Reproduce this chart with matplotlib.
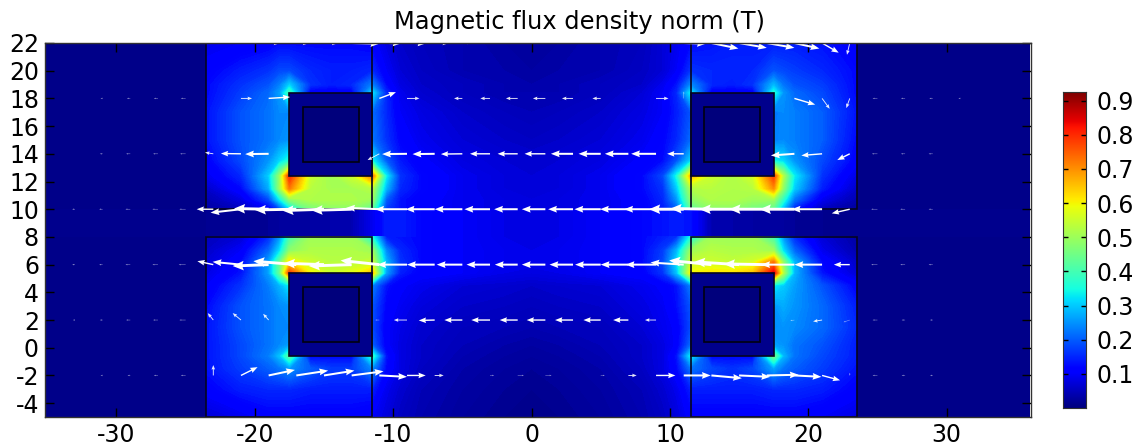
import numpy as np
import matplotlib
matplotlib.use("Agg")
import matplotlib.pyplot as plt
from matplotlib.patches import Rectangle

plt.rcParams["axes.unicode_minus"] = False

title = "Magnetic flux density norm (T)"
x_ticks = [-30, -20, -10, 0, 10, 20, 30]
y_ticks = list(range(-4, 23, 2))
cbar_ticks = [0.1, 0.2, 0.3, 0.4, 0.5, 0.6, 0.7, 0.8, 0.9]
vmin, vmax = 0.0, 0.925

# field sampled by eye: node positions
field_x = [-36, -23.51, -23.5, -21, -19, -18.2, -17.5, -16, -14.5, -13, -11.5, -10.5, -9.5, -8, -5, -2, 0, 2, 5, 8,
           9.5, 10.5, 11.5, 13, 14.5, 16, 17.5, 18.2, 19, 21, 23.49, 23.5, 36]
field_y = [22, 20, 19, 18.4, 17, 15, 13.5, 12.4, 11.5, 10.7, 10, 9.99, 9, 8.01, 8, 7, 6.2, 5.4, 4.5, 3, 1.5, 0.2,
           -0.6, -1.5, -3, -5]

f_22 = [.01,.01,.09,.10,.11,.12,.12,.12,.12,.12,.11,.08,.06,.05,.04,.03,.03,.03,.04,.05,.07,.09,.12,.13,.14,.14,.14,.14,.14,.13,.11,.01,.01]
f_20 = [.01,.01,.11,.14,.16,.18,.18,.15,.14,.14,.15,.10,.07,.055,.04,.035,.03,.035,.04,.055,.07,.10,.16,.15,.15,.15,.19,.18,.17,.15,.12,.01,.01]
f_19 = [.01,.01,.12,.16,.19,.23,.30,.16,.14,.15,.23,.12,.08,.06,.05,.04,.035,.04,.05,.06,.09,.13,.24,.15,.14,.16,.28,.22,.19,.17,.12,.01,.01]
f_184 = [.01,.01,.12,.17,.21,.26,.40,.10,.10,.10,.32,.15,.09,.065,.05,.04,.04,.04,.05,.07,.10,.15,.33,.10,.10,.10,.36,.25,.21,.18,.12,.01,.01]
f_17 = [.01,.01,.13,.19,.22,.24,.24,.05,.05,.05,.21,.15,.10,.08,.06,.05,.045,.05,.06,.08,.10,.14,.19,.05,.05,.05,.22,.24,.23,.20,.13,.01,.01]
f_15 = [.01,.01,.13,.19,.22,.24,.25,.05,.05,.05,.22,.16,.115,.09,.07,.06,.055,.06,.07,.09,.115,.15,.21,.05,.05,.05,.23,.24,.23,.20,.12,.01,.01]
f_135 = [.01,.01,.11,.18,.25,.31,.36,.05,.05,.05,.34,.20,.135,.105,.08,.07,.065,.07,.08,.105,.125,.19,.31,.05,.05,.05,.34,.31,.25,.18,.11,.01,.01]
f_124 = [.01,.01,.09,.15,.30,.50,.80,.55,.50,.55,.72,.33,.16,.12,.09,.075,.07,.075,.09,.12,.18,.35,.66,.55,.52,.56,.78,.52,.33,.16,.08,.01,.01]
f_115 = [.01,.01,.06,.12,.27,.50,.72,.53,.51,.51,.53,.28,.15,.12,.09,.075,.07,.075,.09,.12,.16,.30,.52,.53,.52,.53,.70,.48,.30,.14,.06,.01,.01]
f_107 = [.01,.01,.04,.08,.18,.33,.48,.52,.52,.52,.50,.20,.13,.11,.09,.08,.075,.08,.09,.11,.15,.25,.48,.52,.52,.50,.50,.37,.22,.09,.04,.01,.01]
f_100 = [.01,.01,.03,.05,.10,.18,.30,.45,.48,.48,.42,.17,.13,.11,.09,.08,.075,.08,.09,.11,.14,.20,.42,.48,.48,.45,.42,.28,.14,.05,.025,.01,.01]
f_gap_top = [.012,.012,.015,.018,.02,.025,.03,.03,.035,.04,.09,.14,.14,.12,.10,.085,.08,.085,.10,.12,.13,.14,.13,.04,.035,.03,.03,.025,.02,.015,.012,.012,.012]
f_gap_mid = [.01,.012,.015,.018,.02,.025,.03,.03,.035,.04,.09,.14,.14,.12,.10,.085,.08,.085,.10,.12,.13,.14,.13,.04,.035,.03,.028,.025,.02,.015,.012,.012,.01]
f_gap_low = [.012,.012,.015,.018,.02,.025,.03,.03,.035,.04,.09,.14,.14,.12,.10,.085,.08,.085,.10,.12,.13,.14,.13,.04,.035,.03,.03,.025,.02,.015,.012,.012,.012]
f_80 = [.01,.01,.05,.07,.15,.25,.40,.50,.50,.50,.35,.14,.13,.12,.10,.085,.08,.085,.10,.12,.14,.16,.35,.50,.50,.50,.40,.25,.15,.07,.03,.01,.01]
f_70 = [.01,.01,.06,.10,.21,.32,.48,.52,.52,.52,.50,.24,.15,.12,.10,.09,.085,.09,.10,.12,.17,.28,.50,.53,.52,.52,.50,.32,.21,.09,.04,.01,.01]
f_62 = [.01,.01,.07,.12,.26,.44,.62,.55,.53,.53,.55,.28,.16,.12,.10,.09,.09,.09,.10,.12,.18,.32,.55,.55,.54,.56,.72,.48,.28,.12,.06,.01,.01]
f_54 = [.01,.01,.08,.13,.26,.44,.78,.60,.55,.58,.65,.26,.14,.11,.10,.085,.08,.085,.10,.11,.16,.29,.60,.62,.62,.65,.85,.52,.28,.13,.07,.01,.01]
f_45 = [.01,.01,.10,.16,.23,.28,.33,.05,.05,.05,.23,.13,.105,.09,.07,.065,.06,.065,.07,.09,.105,.13,.23,.05,.05,.05,.33,.30,.26,.19,.11,.01,.01]
f_30 = [.01,.01,.12,.19,.22,.24,.25,.05,.05,.05,.19,.115,.095,.075,.06,.055,.05,.055,.06,.08,.095,.125,.19,.05,.05,.05,.25,.27,.25,.21,.14,.01,.01]
f_15b = [.01,.01,.13,.19,.22,.24,.24,.05,.05,.05,.18,.105,.085,.065,.05,.045,.04,.045,.05,.07,.09,.105,.18,.05,.05,.05,.24,.25,.24,.21,.15,.01,.01]
f_02 = [.01,.01,.13,.18,.22,.24,.26,.05,.05,.05,.20,.105,.08,.06,.045,.035,.03,.035,.045,.06,.08,.105,.21,.05,.05,.05,.26,.25,.22,.19,.14,.01,.01]
f_m06 = [.01,.01,.13,.18,.23,.29,.42,.12,.12,.12,.38,.13,.08,.06,.04,.03,.025,.03,.04,.06,.08,.13,.33,.12,.12,.12,.45,.28,.22,.18,.14,.01,.01]
f_m15 = [.01,.01,.13,.17,.20,.22,.25,.20,.17,.17,.24,.12,.08,.055,.035,.025,.02,.025,.035,.055,.08,.12,.22,.18,.16,.18,.26,.22,.20,.17,.13,.01,.01]
f_m3 = [.01,.01,.11,.14,.15,.15,.15,.14,.14,.14,.14,.09,.065,.045,.03,.02,.015,.02,.03,.045,.065,.09,.14,.14,.14,.14,.15,.15,.15,.14,.11,.01,.01]
f_m5 = [.01,.01,.07,.09,.11,.11,.11,.11,.11,.11,.10,.075,.055,.04,.025,.015,.012,.015,.025,.04,.055,.075,.11,.11,.11,.11,.11,.11,.11,.10,.08,.01,.01]

field_rows = [f_22, f_20, f_19, f_184, f_17, f_15, f_135, f_124, f_115, f_107, f_100, f_gap_top, f_gap_mid, f_gap_low,
              f_80, f_70, f_62, f_54, f_45, f_30, f_15b, f_02, f_m06, f_m15, f_m3, f_m5]

# arrows: (tail x, u, v) for each row y
row_22 = [(-19,.7,-.05),(-17,.8,-.05),(-15,.9,-.05),(-13,2.0,-.05),(-11,1.5,-.05),(-9,1.3,-.05),(-7,.9,-.05),(-5,.5,-.05),
          (11,1.6,-.05),(13,1.95,-.4),(15,2.0,-.35),(17,2.0,-.35),(19,1.8,-.4),(21,1.2,-.7),(23,-.2,-.85)]
row_18 = [(-31,-.15,0),(-29,-.25,0),(-27,-.3,0),(-25,-.35,0),(-21,.8,0),(-19,1.55,.1),(-11,1.2,.45),(-9,.9,0),
          (-5,-.6,0),(-3,-.7,0),(-1,-.85,0),(1,-.9,0),(3,-.8,0),(5,-.6,0),(9,.9,0),(11,0,.5),
          (19,1.5,-.45),(21,.55,-.75),(23,-.25,-.7),(25,-.35,0),(27,-.3,0),(29,-.25,0),(31,-.15,0)]
row_14 = [(-31,-.2,0),(-29,-.3,0),(-27,-.35,0),(-25,-.4,0),(-23,-.6,.1),(-21,-1.45,.02),(-19,-1.7,-.02),(-11,-.85,-.45),
          (-9,-1.8,-.02),(-7,-1.6,-.02),(-5,-1.55,-.02),(-3,-1.45,0),(-1,-1.45,0),(1,-1.5,0),(3,-1.6,0),(5,-1.6,0),
          (7,-1.7,0),(9,-1.8,0),(11,-1.2,0),(19,-1.7,-.12),(21,-1.5,-.12),(23,-.9,-.45),(25,-.4,0),(27,-.3,0),(29,-.3,0)]
row_10 = [(-33,-.2,0),(-31,-.25,0),(-29,-.35,0),(-27,-.4,0),(-25,-.45,0),(-23,-1.2,0),(-21,-2.2,-.25),(-19,-2.5,.05),
          (-17,-3.0,-.05),(-15,-3.0,-.1),(-13,-2.9,-.08),(-11,-2.4,.1),(-9,-2.3,0),(-7,-2.1,0),(-5,-2.0,0),
          (-3,-1.85,0),(-1,-1.7,0),(1,-1.7,0),(3,-1.8,0),(5,-1.9,0),(7,-2.05,0),(9,-2.3,0),(11,-2.5,0),(13,-2.95,.05),
          (15,-2.85,0),(17,-2.7,0),(19,-2.5,0),(21,-2.2,0),(23,-1.3,-.3),(25,-.45,0),(27,-.35,0),(29,-.3,0)]
row_6 = [(-33,-.2,0),(-31,-.25,0),(-29,-.35,0),(-27,-.4,0),(-25,-.5,0),(-23,-1.15,.25),(-21,-2.05,.2),(-19,-2.6,-.1),
         (-17,-3.1,.25),(-15,-2.9,.1),(-13,-3.1,-.1),(-11,-2.8,.3),(-9,-2.15,0),(-7,-2.0,0),(-5,-1.85,0),
         (-3,-1.7,0),(-1,-1.65,0),(1,-1.7,0),(3,-1.7,0),(5,-1.85,0),(7,-2.0,0),(9,-2.2,0),(11,-2.4,.15),(13,-3.05,.3),
         (15,-3.25,.2),(17,-3.1,.05),(19,-2.4,0),(21,-2.0,0),(23,-1.15,0),(25,-.45,0),(27,-.35,0),(29,-.3,0)]
row_2 = [(-33,-.15,0),(-31,-.2,0),(-29,-.3,0),(-27,-.35,0),(-25,-.45,0),(-23,-.4,.5),(-21,-.6,.5),(-19,-.4,.45),
         (-11,-.3,0),(-9,-.95,0),(-7,-1.15,-.03),(-5,-1.3,0),(-3,-1.35,0),(-1,-1.3,0),(1,-1.35,0),(3,-1.3,0),
         (5,-1.25,0),(7,-1.1,0),(9,-.8,0),(19,-.3,-.05),(21,-.65,-.1),(23,-.45,-.15),(25,-.35,0),(27,-.25,0),(29,-.2,0)]
row_m2 = [(-31,-.15,0),(-29,-.2,0),(-27,-.3,0),(-25,-.35,0),(-23,0,.75),(-21,1.2,.6),(-19,1.9,.4),(-17,2.3,.35),
          (-15,2.2,.35),(-13,2.3,.3),(-11,2.0,-.1),(-9,1.35,0),(-7,.65,0),(-3,.3,0),(-1,.45,0),(1,.45,0),(5,.3,0),
          (7,.6,0),(9,1.4,0),(11,1.95,0),(13,2.2,-.2),(15,2.25,-.1),(17,2.3,.05),(19,1.95,-.1),(21,1.3,-.35),
          (23,0,.2),(25,-.35,0),(27,-.25,0),(29,-.2,0)]
arrow_rows = {22: row_22, 18: row_18, 14: row_14, 10: row_10, 6: row_6, 2: row_2, -2: row_m2}

# geometry of the model
coil_x = [-17.5, 11.5]
coil_y = [12.4, -0.6]
core_w, core_h = 6, 6
yoke_x = [-23.5, 11.5]
yoke_w = 12
yoke_upper = (10, 12)
yoke_lower = (-5, 13)

W, H = 1139, 447
fig = plt.figure(figsize=(W / 100, H / 100), dpi=100)
ax = fig.add_axes([44.5 / W, 1 - 417 / H, (1031 - 44.5) / W, (417 - 43) / H])

levels = np.linspace(vmin, vmax, 186)
cs = ax.contourf(field_x, field_y, np.array(field_rows), levels=levels, cmap="jet", extend="both", antialiased=False)

for xc in coil_x:
    for yc in coil_y:
        ax.add_patch(Rectangle((xc, yc), core_w, core_h, fc="#00008c", ec="#050520", lw=1.2, zorder=2))
        ax.add_patch(Rectangle((xc + 1, yc + 1), core_w - 2, core_h - 2, fc="#00007c", ec="#000010", lw=1.2, zorder=2))
for xc in yoke_x:
    for y0, h in (yoke_upper, yoke_lower):
        ax.add_patch(Rectangle((xc, y0), yoke_w, h, fill=False, ec="#050520", lw=1.2, zorder=2))

# magnitude bands: low, high, shaft width, head width, head length, head axis length, alpha
groups = [(0, 0.55, 0.5, 3, 4, 3.6, 0.55), (0.55, 1.0, 0.9, 4, 5, 4.5, 0.9),
          (1.0, 1.6, 1.4, 4.0, 5.2, 4.7, 1), (1.6, 2.45, 2.0, 3.4, 4.4, 4.0, 1),
          (2.45, 99, 2.9, 3.3, 3.8, 3.4, 1)]
allx, ally, allu, allv = [], [], [], []
for y, row in arrow_rows.items():
    for x, u, v in row:
        allx.append(x); ally.append(y); allu.append(u); allv.append(v)
allx, ally, allu, allv = map(np.array, (allx, ally, allu, allv))
mag = np.hypot(allu, allv)
for lo, hi, w, hw, hl, hal, a in groups:
    m = (mag >= lo) & (mag < hi)
    ax.quiver(allx[m], ally[m], allu[m], allv[m], angles="xy", scale_units="xy", scale=1, units="dots", width=w,
              headwidth=hw, headlength=hl, headaxislength=hal, minlength=0, color="white", alpha=a, zorder=3)

ax.set_xlim(-35.2, 36.1)
ax.set_ylim(-5, 22)
ax.set_xticks(x_ticks)
ax.set_yticks(y_ticks)
ax.tick_params(axis="both", direction="in", length=6.5, width=1, labelsize=17, top=True, right=True, color="black")
ax.tick_params(axis="x", pad=4.5)
ax.tick_params(axis="y", pad=4)
for s in ax.spines.values():
    s.set_color("#333333")
    s.set_linewidth(1)
    s.set_zorder(5)

cax = fig.add_axes([1063 / W, 1 - 408 / H, 23 / W, (408 - 92) / H])
grad = np.linspace(vmin, vmax, 256).reshape(-1, 1)
cax.imshow(grad, origin="lower", aspect="auto", cmap="jet", vmin=vmin, vmax=vmax, extent=[0, 1, vmin, vmax])
cax.set_xticks([])
cax.yaxis.tick_right()
cax.set_yticks(cbar_ticks)
cax.set_yticklabels([f"{t:.1f}" for t in cbar_ticks])
cax.tick_params(axis="y", direction="in", length=3.5, width=1, labelsize=17, left=True, right=True, pad=7.5)
for s in cax.spines.values():
    s.set_color("#333333")

fig.text(579.5 / W, 1 - 22 / H, title, ha="center", va="center", fontsize=17.4, color="black")
fig.savefig("out.png", dpi=100)
